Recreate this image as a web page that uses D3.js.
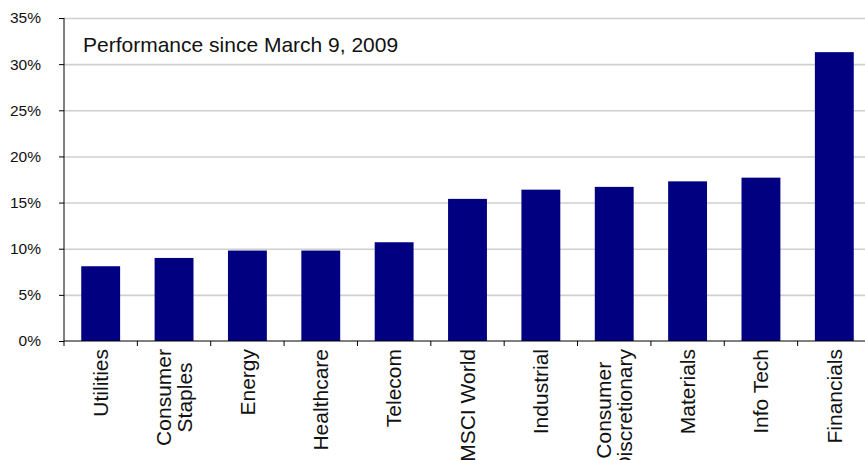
<!DOCTYPE html>
<html>
<head>
<meta charset="utf-8">
<script src="https://cdn.jsdelivr.net/npm/d3@7"></script>
<style>
    body { margin: 0; background: #fff; }
    svg { display: block; font-family: "Liberation Sans", Arial, sans-serif; }
</style>
</head>
<body>
<div class="chart"></div>
<script>
// data
const categories = ['Utilities', 'Consumer\nStaples', 'Energy', 'Healthcare', 'Telecom',
    'MSCI World', 'Industrial', 'Consumer\nDiscretionary', 'Materials', 'Info Tech', 'Financials'];
const values = [8.1, 9.0, 9.8, 9.8, 10.7, 15.4, 16.4, 16.7, 17.3, 17.7, 31.3];
const yTicks = [0, 5, 10, 15, 20, 25, 30, 35];
const title = 'Performance since March 9, 2009';

const fullWidth = 865;
const fullHeight = 460;
const margin = {top: 18, right: -6, bottom: 119, left: 64};
const width = fullWidth - margin.left - margin.right;
const height = fullHeight - margin.top - margin.bottom;

const svg = d3.select('.chart')
    .append('svg')
        .attr('width', fullWidth)
        .attr('height', fullHeight)
    .append('g')
        .attr('transform', `translate(${margin.left}, ${margin.top})`);

const yScale = d3.scaleLinear()
    .domain([0, 35])
    .range([height, 0]);

const xScale = d3.scaleBand()
    .domain(categories)
    .range([0, width])
    .paddingInner(0.47)
    .paddingOuter(0.235);

// gridlines
svg.append('g')
    .call(d3.axisLeft(yScale).tickValues(yTicks.slice(1)).tickSize(-width).tickFormat(''))
    .call(g => g.select('.domain').remove())
    .selectAll('line')
        .attr('stroke', '#cfcfcf')
        .attr('stroke-width', 1.6);

// bars
svg.selectAll('rect.bar')
    .data(values)
    .enter()
    .append('rect')
    .attr('class', 'bar')
    .attr('x', (d, i) => xScale(categories[i]))
    .attr('y', d => yScale(d))
    .attr('width', xScale.bandwidth())
    .attr('height', d => height - yScale(d))
    .attr('fill', '#000080');

// y axis
svg.append('g')
    .call(d3.axisLeft(yScale).tickValues(yTicks).tickSize(5).tickPadding(18).tickFormat(d => d + '%'))
    .call(g => g.select('.domain').attr('d', `M0,0V${height}`))
    .call(g => g.selectAll('text').attr('font-size', 15.5).attr('fill', '#111').attr('font-family', null));

// x axis with ticks between bands
const xAxis = svg.append('g').attr('transform', `translate(0, ${height})`);
xAxis.append('line')
    .attr('x1', 0).attr('x2', width)
    .attr('stroke', '#000');
xAxis.selectAll('line.tick')
    .data(d3.range(categories.length + 1))
    .enter()
    .append('line')
    .attr('class', 'tick')
    .attr('x1', i => i * xScale.step())
    .attr('x2', i => i * xScale.step())
    .attr('y2', 5)
    .attr('stroke', '#000');

const fontSize = 21;
const lineGap = 21;
xAxis.selectAll('g.label')
    .data(categories)
    .enter()
    .append('g')
    .attr('class', 'label')
    .attr('transform', d => `translate(${xScale(d) + xScale.bandwidth() / 2}, 8) rotate(-90)`)
    .each(function (d) {
        const lines = d.split('\n');
        const g = d3.select(this);
        const texts = lines.map((t, k) => g.append('text')
            .attr('font-size', fontSize)
            .attr('fill', '#111')
            .attr('y', (k - (lines.length - 1) / 2) * lineGap)
            .attr('dy', '0.35em')
            .text(t));
        const maxLen = d3.max(texts, t => t.node().getComputedTextLength());
        texts.forEach(t => t.attr('text-anchor', 'middle').attr('x', -maxLen / 2));
    });

// title
svg.append('text')
    .attr('x', 19)
    .attr('y', 34)
    .attr('font-size', 21)
    .attr('fill', '#111')
    .text(title);
</script>
</body>
</html>
